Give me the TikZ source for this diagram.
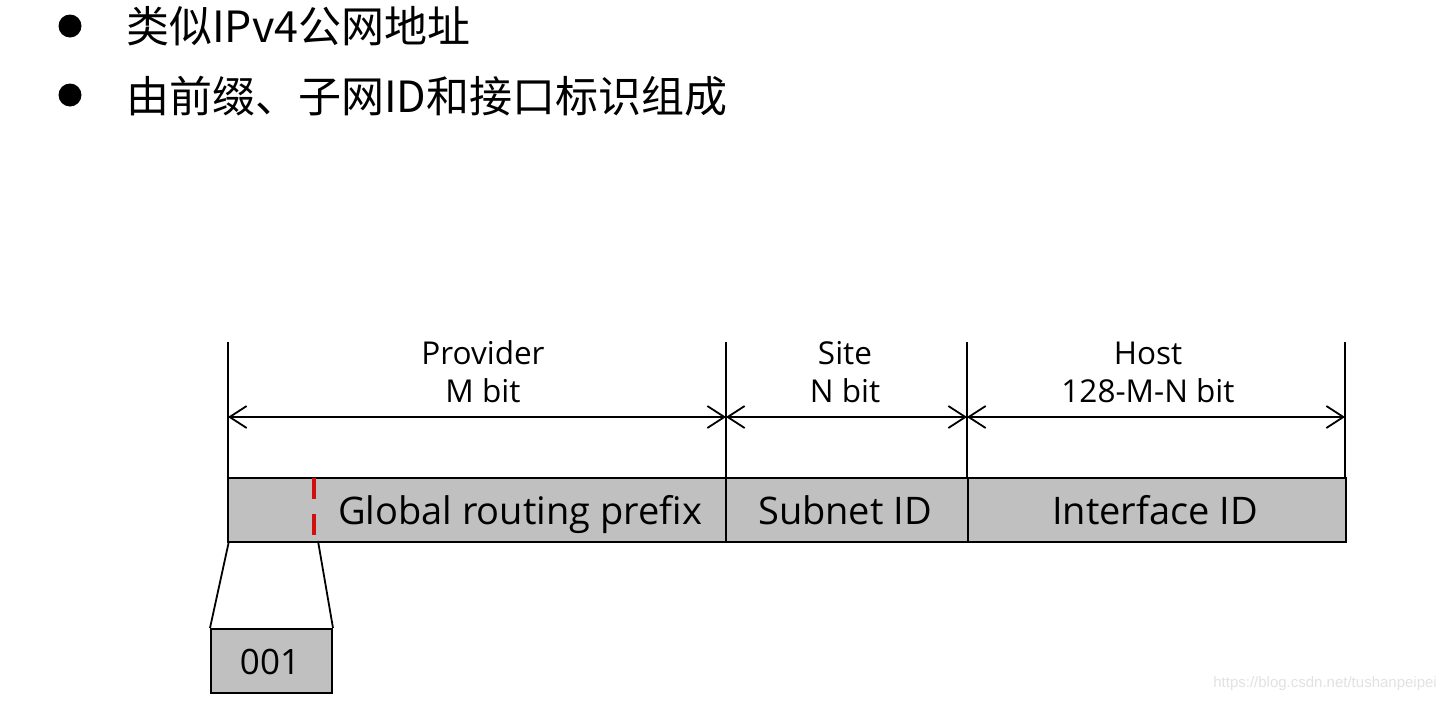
\documentclass[tikz,border=0pt]{standalone}
\usepackage{fontspec}
\setmainfont{Open Sans}
\newfontfamily\cjk{Noto Sans CJK SC}
\newfontfamily\wmfont{Liberation Sans}
\usetikzlibrary{arrows.meta}
\definecolor{segfill}{HTML}{C0C0C0}
\definecolor{reddash}{HTML}{D01010}
\definecolor{wmgray}{HTML}{E2E2E2}
\begin{document}
\begin{tikzpicture}[x=1pt,y=-1pt,
  seg/.style={draw=black, line width=2pt, fill=segfill, inner sep=0pt, anchor=north west, minimum height=64pt},
  seglabel/.style={font=\fontsize{38}{44}\selectfont, inner sep=0pt, anchor=base},
  toplabel/.style={font=\fontsize{31.5}{38}\selectfont, align=center, inner sep=0pt},
  extline/.style={line width=1.8pt},
  dim/.style={line width=1.8pt, {Straight Barb[length=17pt,width=22pt,line width=1.8pt]}-{Straight Barb[length=17pt,width=22pt,line width=1.8pt]}},
  bullettext/.style={font=\cjk\fontsize{43}{48}\selectfont, anchor=west, inner sep=0pt},
  bulletdot/.style={circle, fill=black, minimum size=23pt, inner sep=0pt}
]
\useasboundingbox[fill=white] (0,0) rectangle (1446,702);

% bullets
\node[bulletdot] (b1) at (70,26) {};
\node[bullettext] (t1) at (126,26) {类似IPv4公网地址};
\node[bulletdot] (b2) at (70,95) {};
\node[bullettext] (t2) at (126,96) {由前缀、子网ID和接口标识组成};

% segments
\node[seg, minimum width=498pt] (gp) at (227,477) {};
\node[seg, minimum width=242pt] (sn) at (725,477) {};
\node[seg, minimum width=378pt] (ii) at (967,477) {};

% red dashed split
\coordinate (rtop) at (314,478);
\coordinate (rbot) at (314,541);
\draw[reddash, line width=3.5pt, dash pattern=on 21pt off 15pt] (rtop) -- (rbot);

% segment labels
\node[seglabel] (gpl) at (520,524) {Global routing prefix};
\node[seglabel] (snl) at (845,524) {Subnet ID};
\node[seglabel] (iil) at (1155,524) {Interface ID};

% extension lines
\coordinate (e1t) at (228,342); \coordinate (e1b) at (228,477);
\coordinate (e2t) at (726,342); \coordinate (e2b) at (726,477);
\coordinate (e3t) at (967,342); \coordinate (e3b) at (967,477);
\coordinate (e4t) at (1345,342); \coordinate (e4b) at (1345,477);
\draw[extline] (e1t) -- (e1b);
\draw[extline] (e2t) -- (e2b);
\draw[extline] (e3t) -- (e3b);
\draw[extline] (e4t) -- (e4b);

% dimension arrows
\coordinate (d1) at (228,417);
\coordinate (d2) at (726,417);
\coordinate (d3) at (967,417);
\coordinate (d4) at (1345,417);
\draw[dim] (d1) -- (d2);
\draw[dim] (d2) -- (d3);
\draw[dim] (d3) -- (d4);

% top labels
\node[toplabel] (pl) at (483,372) {Provider\\M bit};
\node[toplabel] (sl) at (845,372) {Site\\N bit};
\node[toplabel] (hl) at (1148,372) {Host\\128-M-N bit};

% 001 box
\node[seg, minimum width=121pt] (box) at (210,628) {};
\node[seglabel, font=\fontsize{35}{42}\selectfont] (boxl) at (270,674) {001};
\coordinate (z1) at (229,541);
\coordinate (z2) at (318,541);
\draw[line width=1.8pt] (z1) -- (box.north west);
\draw[line width=1.8pt] (z2) -- (box.north east);

% watermark
\node[font=\wmfont\fontsize{15}{18}\selectfont, text=wmgray, anchor=east, inner sep=0pt] (wm) at (1437,684) {https://blog.csdn.net/tushanpeipei};
\end{tikzpicture}
\end{document}
